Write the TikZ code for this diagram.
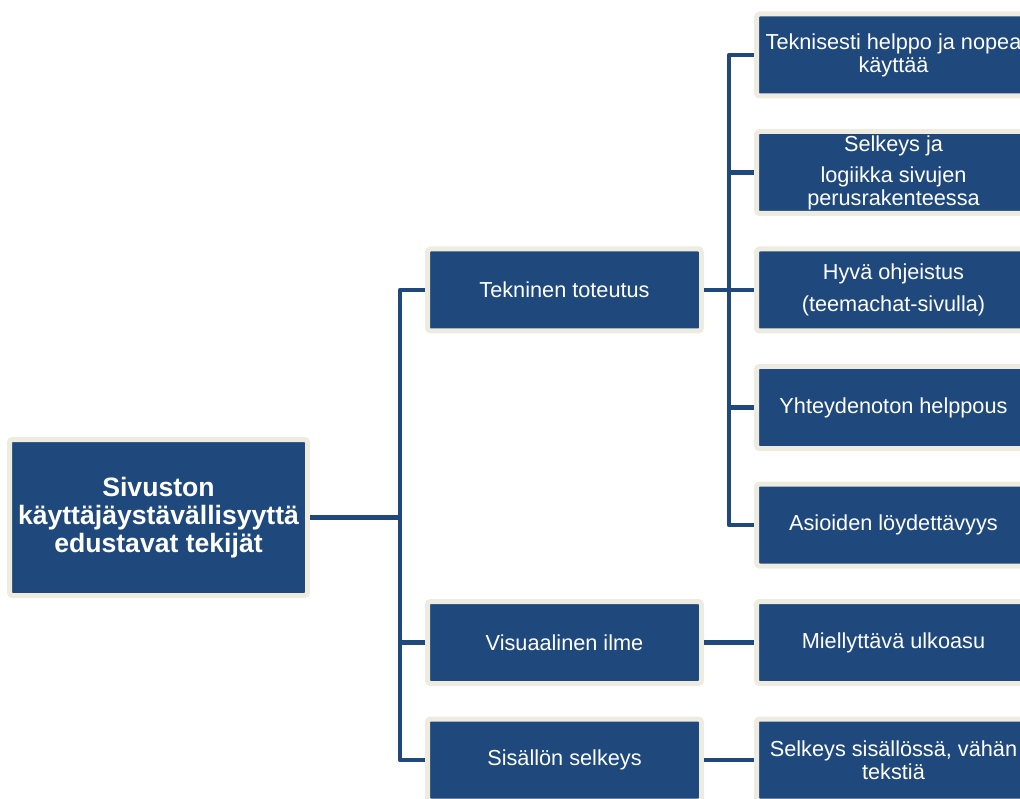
\documentclass[tikz,border=0pt]{standalone}
\usepackage{fontspec}
\setmainfont{Liberation Sans}
\usepackage{xcolor}
\usepackage{tikz}
\usetikzlibrary{positioning, calc}
\definecolor{siteblue}{RGB}{31, 73, 125}
\definecolor{haloback}{RGB}{238, 236, 225}

\begin{document}
\begin{tikzpicture}[
    x=1pt, y=-1pt,
    node distance=30.5pt,
    box/.style={rectangle, rounded corners=3pt, draw=haloback, line width=5pt, fill=siteblue, text=white, align=center, inner sep=2pt, minimum width=274pt, minimum height=82pt, font=\fontsize{21.7}{23}\selectfont},
    rootbox/.style={box, minimum width=298pt, minimum height=156pt, font=\fontsize{26.6}{28}\selectfont\bfseries},
    conn/.style={draw=siteblue, line width=4.5pt, line join=round}
]
\useasboundingbox (0,0) rectangle (1020,799);

\node[rootbox] (root) at (158.5,517.5) {Sivuston\\käyttäjäystävällisyyttä\\edustavat tekijät};

\node[box] (tek) at (564.5,290) {Tekninen toteutus};

\node[box] (helppo) at (893.5,55) {Teknisesti helppo ja nopea\\käyttää};
\node[box, below=of helppo] (selkeys) {Selkeys ja\\[8pt]logiikka sivujen\\perusrakenteessa};
\node[box, below=of selkeys] (ohjeet) {Hyvä ohjeistus\\[9pt](teemachat-sivulla)};
\node[box, below=of ohjeet] (yhteys) {Yhteydenoton helppous};
\node[box, below=of yhteys] (loyd) {Asioiden löydettävyys};
\node[box, below=of loyd] (ulkoasu) {Miellyttävä ulkoasu};
\node[box, below=of ulkoasu] (sisalto) {Selkeys sisällössä, vähän\\tekstiä};

\node[box, left=50pt of ulkoasu] (vis) {Visuaalinen ilme};
\node[box, left=50pt of sisalto] (sis) {Sisällön selkeys};

% root to the three branches
\coordinate (trunk) at (400,517.5);
\draw[conn] (root.east) -- (trunk);
\foreach \b in {tek, vis, sis}
    \draw[conn] (trunk) |- (\b.west);

% technical branch
\coordinate (tekj) at (729,290);
\draw[conn] (tek.east) -- (tekj);
\foreach \c in {helppo, selkeys, ohjeet, yhteys, loyd}
    \draw[conn] (tekj) |- (\c.west);

\draw[conn] (vis) -- (ulkoasu);
\draw[conn] (sis) -- (sisalto);
\end{tikzpicture}
\end{document}
